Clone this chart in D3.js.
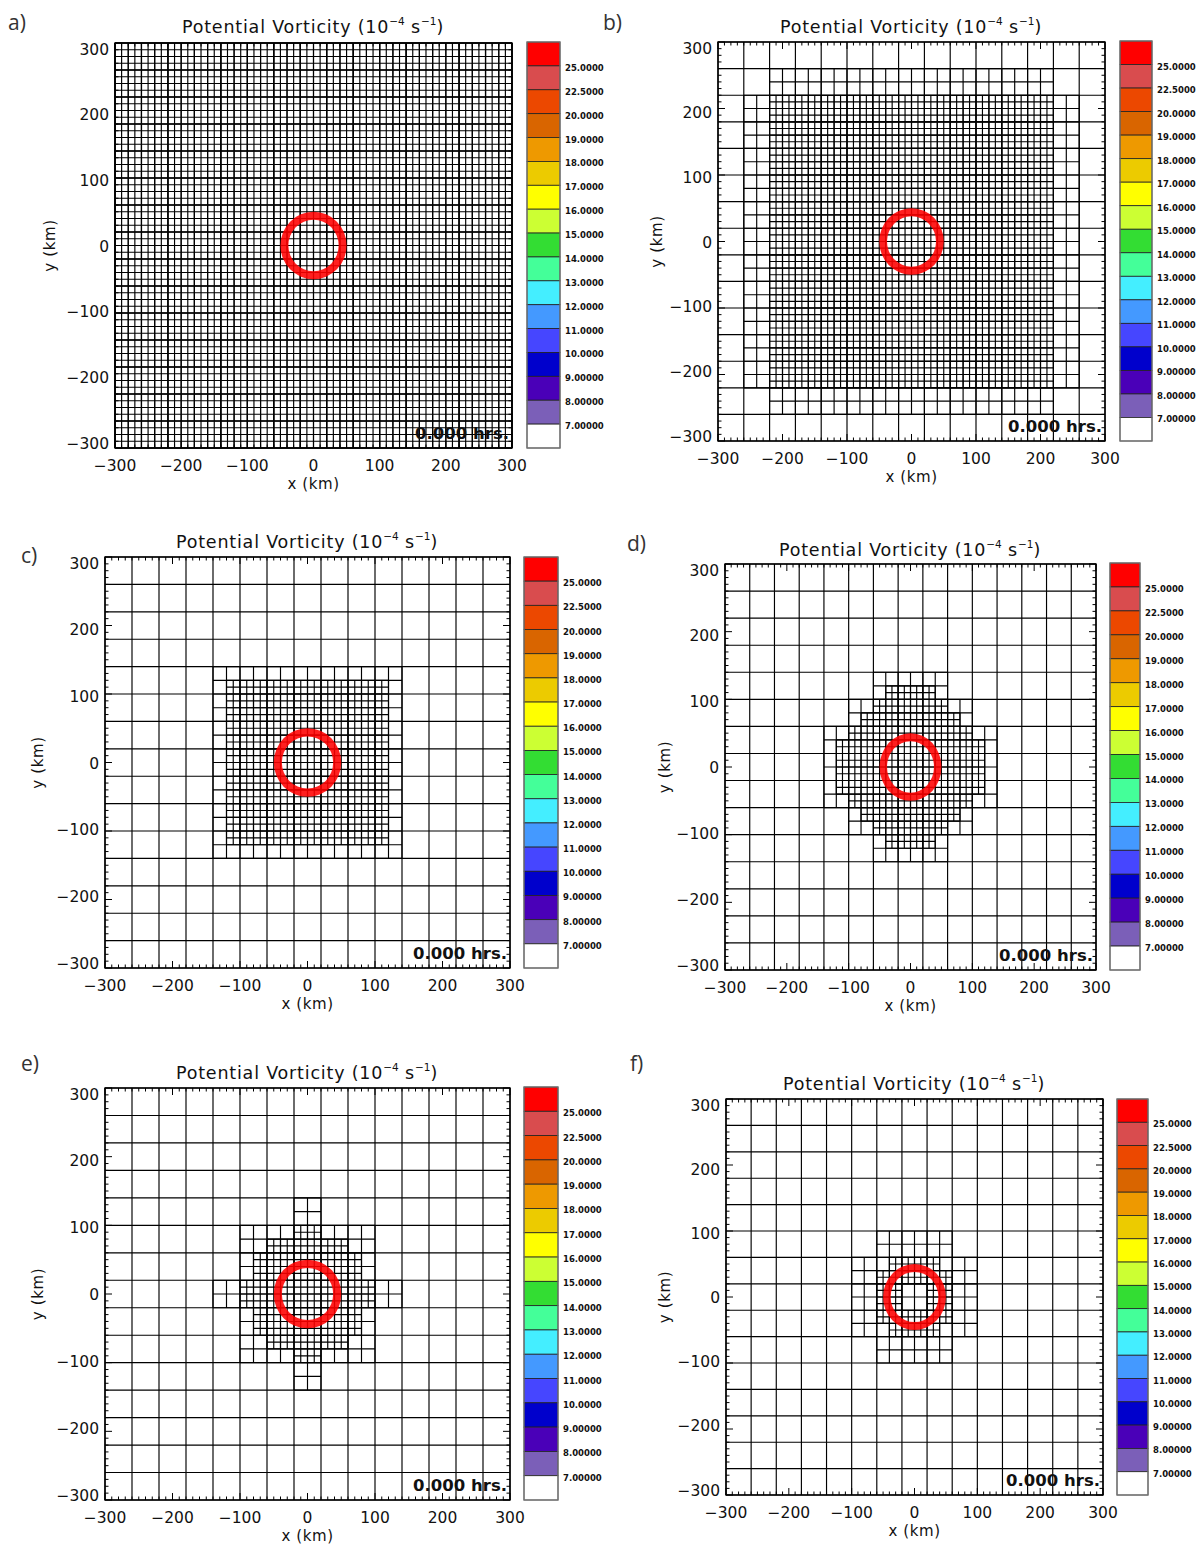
<!DOCTYPE html>
<html><head><meta charset="utf-8">
<script src="https://cdn.jsdelivr.net/npm/d3@7"></script>
<style>body{margin:0;background:#fff}</style>
</head><body>
<svg id="chart" width="1200" height="1546" xmlns="http://www.w3.org/2000/svg"></svg>
<script>
// ---------------- data ----------------
const panelNames = ["a)", "b)", "c)", "d)", "e)", "f)"];
const timeLabel = "0.000 hrs.";
const axisDomain = [-300, 300];
const majorTicks = [-300, -200, -100, 0, 100, 200, 300];
const minorStep = 10;             // km
const cellSizes = [40, 20, 10];   // km, level 0 / 1 / 2
const ringRadii = [38, 50];       // km, inner / outer radius of PV ring
const cbLabels = ["25.0000", "22.5000", "20.0000", "19.0000", "18.0000", "17.0000", "16.0000", "15.0000",
                  "14.0000", "13.0000", "12.0000", "11.0000", "10.0000", "9.00000", "8.00000", "7.00000"];
const cbColors = ["#ff0000", "#d94c4e", "#ec4800", "#d96500", "#ee9900", "#eccb00", "#ffff00", "#ccff33",
                  "#33dd33", "#44ff99", "#44eeff", "#4499ff", "#4646ff", "#0000cc", "#4a00b8", "#7b5fb8", "#ffffff"];

// refined regions, [x0, x1, y0, y1] in km
const level1_a = [[-300, 300, -300, 300]];
const level2_a = [[-300, 300, -300, 300]];
const level1_b = [[-260, 260, -220, 220], [-220, 220, -260, 260]];
const level2_b = [[-220, 220, -220, 220]];
const level1_c = [[-140, 140, -140, 140]];
const level2_c = [[-120, 120, -120, 120]];
const level1_d = [[-60, 60, 100, 140], [-100, 100, 60, 100], [-140, 140, -60, 60], [-100, 100, -100, -60], [-60, 60, -140, -100]];
const level2_d = [[-40, 40, 100, 120], [-60, 60, 80, 100], [-80, 80, 60, 80], [-100, 100, 40, 60], [-120, 120, -40, 40],
                  [-100, 100, -60, -40], [-80, 80, -80, -60], [-60, 60, -100, -80], [-40, 40, -120, -100]];
const level1_e = [[-20, 20, 100, 140], [-100, 100, 20, 100], [-140, 140, -20, 20], [-100, 100, -100, -20], [-20, 20, -140, -100]];
const level2_e = [[-20, 20, 80, 100], [-60, 60, 60, 80], [-80, 80, 20, 60], [-100, 100, -20, 20],
                  [-80, 80, -60, -20], [-60, 60, -80, -60], [-20, 20, -100, -80]];
const level1_f = [[-60, 60, 60, 100], [-100, 100, -60, 60], [-60, 60, -100, -60]];
const level2_f = [[-40, 40, 40, 60], [-60, 60, 20, 40], [-60, -20, -20, 20], [20, 60, -20, 20],
                  [-60, 60, -40, -20], [-40, 40, -60, -40]];
const level1Sets = [level1_a, level1_b, level1_c, level1_d, level1_e, level1_f];
const level2Sets = [level2_a, level2_b, level2_c, level2_d, level2_e, level2_f];

// ---------------- layout ----------------
const layout = [
  {x0: 115, x1: 512, y0: 43, y1: 448, cb: [527, 560, 42, 448], title: [313, 33], letter: [8, 30], ylab: 50},
  {x0: 718, x1: 1105, y0: 42, y1: 441, cb: [1120, 1152, 41, 441], title: [911, 33], letter: [603, 30], ylab: 657},
  {x0: 105, x1: 510, y0: 557, y1: 968, cb: [524, 558, 557, 968], title: [307, 548], letter: [21, 563], ylab: 38},
  {x0: 725, x1: 1096, y0: 564, y1: 970, cb: [1110, 1140, 563, 970], title: [910, 556], letter: [627, 551], ylab: 665},
  {x0: 105, x1: 510, y0: 1088, y1: 1500, cb: [524, 558, 1087, 1500], title: [307, 1079], letter: [21, 1071], ylab: 38},
  {x0: 726, x1: 1103, y0: 1099, y1: 1495, cb: [1117, 1148, 1099, 1495], title: [914, 1090], letter: [630, 1071], ylab: 665}
];

const FONT = "'DejaVu Sans', 'Liberation Sans', sans-serif";
const svg = d3.select("#chart");

function gridPath(rects, s, xs, ys) {
  let d = "";
  rects.forEach(([x0, x1, y0, y1]) => {
    for (let x = x0; x <= x1 + 1e-6; x += s) d += `M${xs(x)},${ys(y0)}V${ys(y1)}`;
    for (let y = y0; y <= y1 + 1e-6; y += s) d += `M${xs(x0)},${ys(y)}H${xs(x1)}`;
  });
  return d;
}

layout.forEach((L, i) => {
  const g = svg.append("g");
  const xs = d3.scaleLinear().domain(axisDomain).range([L.x0, L.x1]);
  const ys = d3.scaleLinear().domain(axisDomain).range([L.y1, L.y0]);
  const cx = (L.x0 + L.x1) / 2, cy = (L.y0 + L.y1) / 2;

  // panel letter
  g.append("text").attr("x", L.letter[0]).attr("y", L.letter[1])
    .attr("font-family", "'Open Sans', 'DejaVu Sans', sans-serif").attr("font-size", 21).attr("fill", "#333")
    .text(panelNames[i]);

  // title
  const t = g.append("text").attr("x", L.title[0]).attr("y", L.title[1]).attr("text-anchor", "middle")
    .attr("font-family", FONT).attr("font-size", 17.5).attr("letter-spacing", 0.8).attr("fill", "#111");
  t.append("tspan").text("Potential Vorticity (10");
  t.append("tspan").attr("font-size", 10.5).attr("dy", -8).attr("letter-spacing", 0).text("\u22124");
  t.append("tspan").attr("dy", 8).text(" s");
  t.append("tspan").attr("font-size", 10.5).attr("dy", -8).attr("letter-spacing", 0).text("\u22121");
  t.append("tspan").attr("dy", 8).text(")");

  // mesh: level 0 everywhere, then refined levels
  const meshSets = [[[axisDomain[0], axisDomain[1], axisDomain[0], axisDomain[1]]], level1Sets[i], level2Sets[i]];
  meshSets.forEach((rects, lev) => {
    g.append("path").attr("d", gridPath(rects, cellSizes[lev], xs, ys))
      .attr("fill", "none").attr("stroke", "#000").attr("stroke-width", 1.15);
  });

  // PV ring (elliptical in pixels because of anisotropic scale), drawn over the mesh
  const rxO = xs(ringRadii[1]) - xs(0), ryO = ys(0) - ys(ringRadii[1]);
  const rxI = xs(ringRadii[0]) - xs(0), ryI = ys(0) - ys(ringRadii[0]);
  const X0 = xs(0), Y0 = ys(0);
  const ell = (rx, ry) => `M${X0 - rx},${Y0}A${rx},${ry} 0 1 0 ${X0 + rx},${Y0}A${rx},${ry} 0 1 0 ${X0 - rx},${Y0}Z`;
  g.append("path").attr("d", ell(rxO, ryO) + ell(rxI, ryI)).attr("fill", cbColors[0])
    .attr("fill-rule", "evenodd").attr("fill-opacity", 0.88);

  // frame
  g.append("rect").attr("x", L.x0).attr("y", L.y0).attr("width", L.x1 - L.x0).attr("height", L.y1 - L.y0)
    .attr("fill", "none").attr("stroke", "#000").attr("stroke-width", 1.4);

  // ticks (all four sides, inward)
  const minor = d3.range(axisDomain[0], axisDomain[1] + 1, minorStep);
  let td = "";
  minor.forEach(v => {
    const len = majorTicks.includes(v) ? 7 : 3.5;
    td += `M${xs(v)},${L.y1}v${-len}M${xs(v)},${L.y0}v${len}`;
    td += `M${L.x0},${ys(v)}h${len}M${L.x1},${ys(v)}h${-len}`;
  });
  g.append("path").attr("d", td).attr("stroke", "#000").attr("stroke-width", 1).attr("fill", "none");

  const fmt = v => (v < 0 ? "\u2212" + Math.abs(v) : String(v));
  // x tick labels
  g.selectAll(".xl").data(majorTicks).join("text")
    .attr("x", v => xs(v)).attr("y", L.y1 + 23).attr("text-anchor", "middle")
    .attr("font-family", FONT).attr("font-size", 15.5).attr("fill", "#111").text(fmt);
  // y tick labels
  g.selectAll(".yl").data(majorTicks).join("text")
    .attr("x", L.x0 - 6).attr("y", v => ys(v) + 5.5 * v / 300 + 6).attr("text-anchor", "end")
    .attr("font-family", FONT).attr("font-size", 15.5).attr("fill", "#111").text(fmt);
  // axis titles
  g.append("text").attr("x", cx).attr("y", L.y1 + 41).attr("text-anchor", "middle")
    .attr("font-family", FONT).attr("font-size", 15).attr("letter-spacing", 0.6).attr("fill", "#111").text("x (km)");
  g.append("text").attr("transform", `translate(${L.ylab + 5},${cy}) rotate(-90)`).attr("text-anchor", "middle")
    .attr("font-family", FONT).attr("font-size", 15).attr("letter-spacing", 0.6).attr("fill", "#111").text("y (km)");

  // time label
  g.append("text").attr("x", L.x1 - 3).attr("y", L.y1 - 9).attr("text-anchor", "end")
    .attr("font-family", FONT).attr("font-size", 16.5).attr("font-weight", "bold").attr("fill", "#111").text(timeLabel);

  // colour bar
  const [bx0, bx1, by0, by1] = L.cb;
  const cbScale = d3.scaleBand().domain(d3.range(cbColors.length)).range([by0, by1]).paddingInner(0);
  g.selectAll(".cb").data(cbColors).join("rect")
    .attr("x", bx0).attr("y", (c, k) => cbScale(k)).attr("width", bx1 - bx0).attr("height", cbScale.bandwidth())
    .attr("fill", c => c).attr("stroke", "#222").attr("stroke-width", 0.8);
  g.append("rect").attr("x", bx0).attr("y", by0).attr("width", bx1 - bx0).attr("height", by1 - by0)
    .attr("fill", "none").attr("stroke", "#777").attr("stroke-width", 1.2);
  g.selectAll(".cbl").data(cbLabels).join("text")
    .attr("x", bx1 + 5).attr("y", (s, k) => cbScale(k + 1) + 5)
    .attr("font-family", FONT).attr("font-size", 8.5).attr("font-weight", "bold").attr("fill", "#111").text(s => s);
});
</script>
</body></html>
